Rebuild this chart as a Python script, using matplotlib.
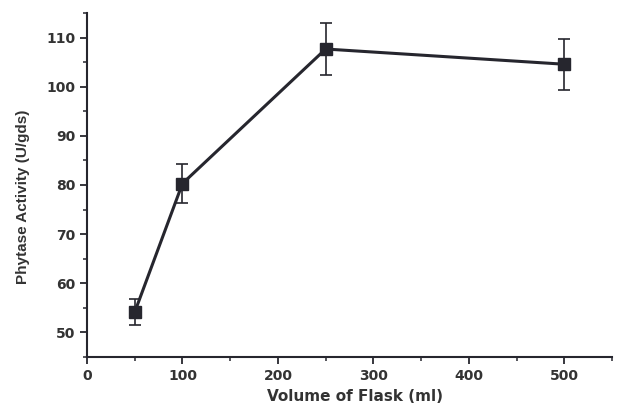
import matplotlib
matplotlib.use('Agg')
import matplotlib.pyplot as plt
from matplotlib.ticker import MultipleLocator

# donnees
volumes = [50, 100, 250, 500]
activite = [54.1, 80.3, 107.7, 104.6]
erreurs = [2.7, 4.0, 5.3, 5.2]

plt.rcParams['font.family'] = ['DejaVu Sans']

fig = plt.figure(figsize=(6.17, 4.12), dpi=100)
ax = fig.add_axes([0.141, 0.134, 0.851, 0.834])

couleur = '#26262e'
ax.errorbar(volumes, activite, yerr=erreurs, fmt='s-', color=couleur,
            ecolor=couleur, elinewidth=1.2, capsize=4, capthick=1.2,
            linewidth=2.2, markersize=8)

ax.set_xlim(0, 550)
ax.set_ylim(45, 115)
ax.xaxis.set_major_locator(MultipleLocator(100))
ax.xaxis.set_minor_locator(MultipleLocator(50))
ax.yaxis.set_major_locator(MultipleLocator(10))
ax.yaxis.set_minor_locator(MultipleLocator(5))

ax.spines['top'].set_visible(False)
ax.spines['right'].set_visible(False)
for s in ('left', 'bottom'):
    ax.spines[s].set_linewidth(1.5)
    ax.spines[s].set_color(couleur)

ax.tick_params(which='major', length=5, width=1.3, color=couleur)
ax.tick_params(which='minor', length=3, width=1.1, color=couleur)
for lab in ax.get_xticklabels() + ax.get_yticklabels():
    lab.set_fontweight('bold')
    lab.set_fontsize(10)
    lab.set_color('#333333')

ax.set_xlabel('Volume of Flask (ml)', fontsize=11, fontweight='bold', color='#333333')
ax.set_ylabel('Phytase Activity (U/gds)', fontsize=11, fontweight='bold',
              color='#333333', family=['Liberation Sans'])
ax.xaxis.set_label_coords(0.51, -0.094)
ax.yaxis.set_label_coords(-0.108, 0.465)

plt.savefig('out.png', dpi=100)
